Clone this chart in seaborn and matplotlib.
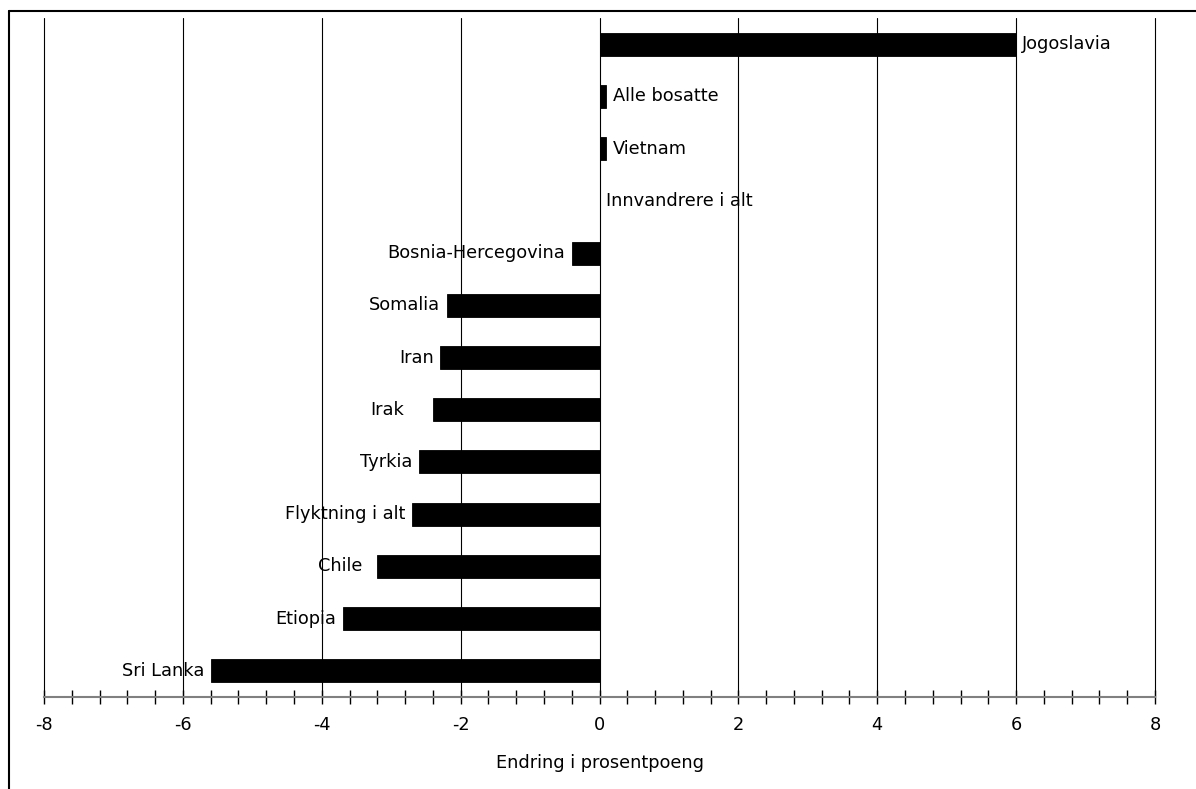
import matplotlib
matplotlib.use("Agg")
import matplotlib.pyplot as plt
from matplotlib.ticker import MultipleLocator
from matplotlib.lines import Line2D
import seaborn as sns
import pandas as pd

categories = ["Jogoslavia", "Alle bosatte", "Vietnam", "Innvandrere i alt",
              "Bosnia-Hercegovina", "Somalia", "Iran", "Irak", "Tyrkia",
              "Flyktning i alt", "Chile", "Etiopia", "Sri Lanka"]
values = [6.0, 0.1, 0.1, 0.0, -0.4, -2.2, -2.3, -2.4, -2.6, -2.7, -3.2, -3.7, -5.6]
xticks = [-8, -6, -4, -2, 0, 2, 4, 6, 8]
xlabel = "Endring i prosentpoeng"

# label gap from bar end, in points (style only)
label_gap = {"Irak": 16, "Chile": 6}

sns.set_style("white")
plt.rcParams["font.family"] = ["DejaVu Sans"]
plt.rcParams["text.color"] = "black"
plt.rcParams["axes.labelcolor"] = "black"
plt.rcParams["xtick.color"] = "black"
plt.rcParams["xtick.labelcolor"] = "black"
FS = 12.8

df = pd.DataFrame({"cat": categories, "val": values})

fig = plt.figure(figsize=(11.96, 7.89), dpi=100)
ax = fig.add_axes([44 / 1196, 1 - 697 / 789, (1155 - 44) / 1196, (697 - 18) / 789])

sns.barplot(data=df, x="val", y="cat", orient="h", color="black",
            width=0.44, saturation=1, edgecolor="black", linewidth=0.6,
            ax=ax, zorder=3)

ax.set_xlim(-8, 8)
ax.set_ylim(len(categories) - 0.5, -0.5)
ax.set_xticks(xticks)
ax.set_xticklabels([str(t) for t in xticks], fontsize=FS, color="black")
ax.xaxis.set_minor_locator(MultipleLocator(0.4))
ax.tick_params(axis="x", which="both", direction="inout", length=10,
               width=1, color="black", pad=9, bottom=True)
ax.set_yticks([])
ax.set_ylabel("")
ax.set_xlabel(xlabel, fontsize=FS, labelpad=14, color="black")

for s in ["top", "right", "left"]:
    ax.spines[s].set_visible(False)
ax.spines["bottom"].set_color("#808080")
ax.spines["bottom"].set_linewidth(1.5)
ax.spines["bottom"].set_zorder(4)

for t in xticks:
    ax.axvline(t, color="black", lw=0.8, zorder=1, clip_on=False)

for i, (c, v) in enumerate(zip(categories, values)):
    gap = 4.5 + label_gap.get(c, 0)
    if v >= 0:
        ax.annotate(c, (v, i), xytext=(gap, 0), textcoords="offset points",
                    ha="left", va="center", fontsize=FS, color="black", zorder=5)
    else:
        ax.annotate(c, (v, i), xytext=(-gap, 0), textcoords="offset points",
                    ha="right", va="center", fontsize=FS, color="black", zorder=5)

# outer frame (top and left)
fig.add_artist(Line2D([9 / 1196, 9 / 1196], [0, 1 - 11 / 789],
                      transform=fig.transFigure, color="black", lw=1.5))
fig.add_artist(Line2D([9 / 1196, 1], [1 - 11 / 789, 1 - 11 / 789],
                      transform=fig.transFigure, color="black", lw=1.5))

fig.savefig("out.png", dpi=100)
